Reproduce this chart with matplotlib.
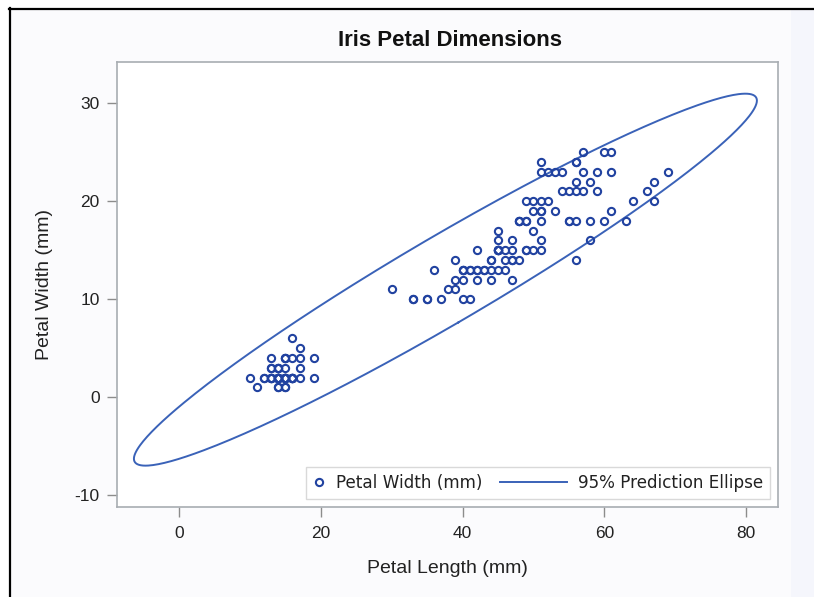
import numpy as np
import matplotlib
matplotlib.use("Agg")
import matplotlib.pyplot as plt
from matplotlib.lines import Line2D
from matplotlib.legend_handler import HandlerLine2D

plt.rcParams["axes.unicode_minus"] = False

# Iris petal length / width (mm)
petal_length = [
    14, 14, 13, 15, 14, 17, 14, 15, 14, 15, 15, 16, 14, 11, 12, 15, 13, 14, 17, 15,
    17, 15, 10, 17, 19, 16, 16, 15, 14, 16, 16, 15, 15, 14, 15, 12, 13, 14, 13, 15,
    13, 13, 13, 16, 19, 14, 16, 14, 15, 14,
    47, 45, 49, 40, 46, 45, 47, 33, 46, 39, 35, 42, 40, 47, 36, 44, 45, 41, 45, 39,
    48, 40, 49, 47, 43, 44, 48, 50, 45, 35, 38, 37, 39, 51, 45, 45, 47, 44, 41, 40,
    44, 46, 40, 33, 42, 42, 42, 43, 30, 41,
    60, 51, 59, 56, 58, 66, 45, 63, 58, 61, 51, 53, 55, 50, 51, 53, 55, 67, 69, 50,
    57, 49, 67, 49, 57, 60, 48, 49, 56, 58, 61, 64, 56, 51, 56, 61, 56, 55, 48, 54,
    56, 51, 51, 59, 57, 52, 50, 52, 54, 51,
]
petal_width = [
    2, 2, 2, 2, 2, 4, 3, 2, 2, 1, 2, 2, 1, 1, 2, 4, 4, 3, 3, 3,
    2, 4, 2, 5, 2, 2, 4, 2, 2, 2, 2, 4, 1, 2, 2, 2, 2, 1, 2, 2,
    3, 3, 2, 6, 4, 3, 2, 2, 2, 2,
    14, 15, 15, 13, 15, 13, 16, 10, 13, 14, 10, 15, 10, 14, 13, 14, 15, 10, 15, 11,
    18, 13, 15, 12, 13, 14, 14, 17, 15, 10, 11, 10, 12, 16, 15, 16, 15, 13, 13, 13,
    12, 14, 12, 10, 13, 12, 13, 13, 11, 13,
    25, 19, 21, 18, 22, 21, 17, 18, 18, 25, 20, 19, 21, 20, 24, 23, 18, 22, 23, 15,
    23, 20, 20, 18, 21, 18, 18, 18, 21, 16, 19, 20, 22, 15, 14, 23, 24, 18, 18, 21,
    24, 23, 19, 23, 25, 23, 19, 20, 23, 18,
]

title = "Iris Petal Dimensions"
xlabel = "Petal Length (mm)"
ylabel = "Petal Width (mm)"
x_ticks = [0, 20, 40, 60, 80]
y_ticks = [-10, 0, 10, 20, 30]
series_label = "Petal Width (mm)"
ellipse_label = "95% Prediction Ellipse"
conf_level = 0.95

marker_color = "#2142a0"
ellipse_color = "#3a62b8"
font = "Liberation Sans"

# ---- 95% prediction ellipse from the data ----
X = np.column_stack([petal_length, petal_width]).astype(float)
n, p = X.shape
mean = X.mean(axis=0)
S = np.cov(X, rowvar=False)
df2 = n - p
F = (df2 / 2.0) * ((1 - conf_level) ** (-2.0 / df2) - 1.0)  # F quantile for df1=2
c2 = p * (n - 1) * (n + 1) / (n * (n - p)) * F
evals, evecs = np.linalg.eigh(S)
t = np.linspace(0, 2 * np.pi, 400)
circle = np.vstack([np.cos(t), np.sin(t)])
ell = (evecs @ np.diag(np.sqrt(evals * c2)) @ circle).T + mean

fig = plt.figure(figsize=(8.14, 5.97), dpi=100)
fig.patch.set_facecolor("white")

# screenshot-like background panels
fig.add_artist(plt.Rectangle((10 / 814, 0), (791 - 10) / 814, 1 - 10 / 597,
                             transform=fig.transFigure, facecolor="#fbfbfd",
                             edgecolor="none", zorder=-3))
fig.add_artist(plt.Rectangle((791 / 814, 0), 1 - 791 / 814, 1 - 10 / 597,
                             transform=fig.transFigure, facecolor="#f5f6fc",
                             edgecolor="none", zorder=-3))
fig.add_artist(Line2D([9 / 814, 1], [1 - 8.5 / 597, 1 - 8.5 / 597],
                      transform=fig.transFigure, color="black", lw=1.6))
fig.add_artist(Line2D([9.5 / 814, 9.5 / 814], [0, 1 - 8 / 597],
                      transform=fig.transFigure, color="black", lw=1.6))

ax = fig.add_axes([117 / 814, 1 - 507 / 597, (778 - 117) / 814, (507 - 62) / 597])
ax.set_facecolor("white")

ax.plot(ell[:, 0], ell[:, 1], color=ellipse_color, lw=1.4, label=ellipse_label, zorder=2)
ax.plot(petal_length, petal_width, linestyle="none", marker="o", markersize=5.2,
        markerfacecolor="none", markeredgecolor=marker_color, markeredgewidth=1.5,
        label=series_label, zorder=3)

ax.set_xlim(-8.75, 84.5)
ax.set_ylim(-11.2, 34.2)
ax.set_xticks(x_ticks)
ax.set_yticks(y_ticks)

for lbl in ax.get_xticklabels() + ax.get_yticklabels():
    lbl.set_fontfamily(font)
    lbl.set_fontsize(12.5)
    lbl.set_color("#222222")
ax.tick_params(axis="both", direction="out", length=7.5, width=1, color="#8c8c8c")
ax.tick_params(axis="x", pad=6)
ax.tick_params(axis="y", pad=5)
for s in ax.spines.values():
    s.set_color("#a8adb2")
    s.set_linewidth(1.2)

ax.set_xlabel(xlabel, fontfamily=font, fontsize=14, color="#222222", labelpad=14)
ax.set_ylabel(ylabel, fontfamily=font, fontsize=14, color="#222222", labelpad=15.5)
fig.text((117 + 778) / 2 / 814 + 0.003, 1 - 41 / 597, title, ha="center", va="center",
         fontfamily=font, fontweight="bold", fontsize=16, color="#111111")


class LongLineHandler(HandlerLine2D):
    """Draw the legend line extending to the left of its (small) handle box (points)."""
    def __init__(self, extra_pt, **kw):
        super().__init__(**kw)
        self.extra_pt = extra_pt

    def create_artists(self, legend, orig_handle, xdescent, ydescent, width, height,
                       fontsize, trans):
        y = height / 2 - ydescent
        line = Line2D([-self.extra_pt, width], [y, y])
        self.update_prop(line, orig_handle, legend)
        line.set_marker("None")
        line.set_transform(trans)
        return [line]


leg_fs = 12.1
handles, labels = ax.get_legend_handles_labels()
order = [1, 0]
leg = ax.legend([handles[i] for i in order], [labels[i] for i in order],
                loc="lower right", ncol=2, frameon=True, fancybox=False,
                prop={"family": "DejaVu Sans", "size": leg_fs},
                handlelength=0.75, handletextpad=0.66, columnspacing=4.25,
                borderpad=0.42, borderaxespad=0.48,
                handler_map={handles[0]: LongLineHandler(extra_pt=39.1)})
leg.get_frame().set_edgecolor("#d0d0d0")
leg.get_frame().set_linewidth(1.0)
for txt in leg.get_texts():
    txt.set_color("#222222")

fig.savefig("out.png", dpi=100, facecolor=fig.get_facecolor())
